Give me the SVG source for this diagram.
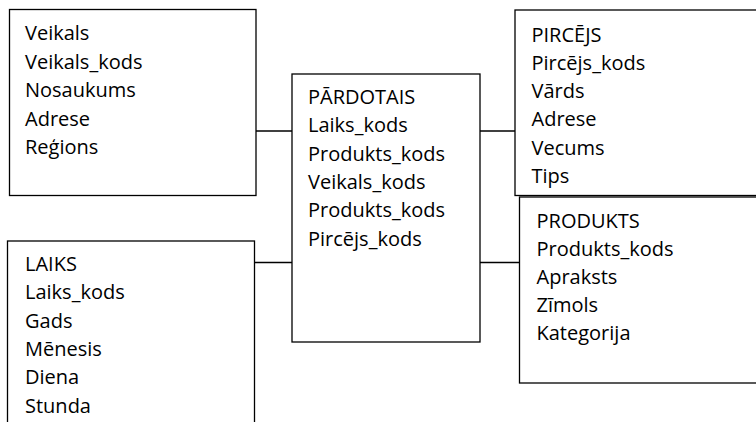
<svg xmlns="http://www.w3.org/2000/svg" width="756" height="422" viewBox="0 0 756 422">
<style>
.box{fill:#fff;stroke:#000;stroke-width:1.3}
.con{stroke:#000;stroke-width:1.3;fill:none}
text{font-family:"Open Sans","Noto Sans",sans-serif;font-size:20px;fill:#000}
</style>
<rect width="756" height="422" fill="#fff"/>
<g id="veikals">
<rect class="box" x="9.5" y="9.5" width="246.5" height="186"/>
<text x="25" y="40">Veikals</text>
<text x="25" y="68.5">Veikals_kods</text>
<text x="25" y="97">Nosaukums</text>
<text x="25" y="125.5">Adrese</text>
<text x="25" y="154">Reģions</text>
</g>
<g id="pardotais">
<rect class="box" x="292" y="74" width="188" height="268"/>
<text x="308" y="104">PĀRDOTAIS</text>
<text x="308" y="132.3">Laiks_kods</text>
<text x="308" y="160.6">Produkts_kods</text>
<text x="308" y="188.9">Veikals_kods</text>
<text x="308" y="217.2">Produkts_kods</text>
<text x="308" y="245.5">Pircējs_kods</text>
</g>
<g id="pircejs">
<rect class="box" x="515" y="10" width="260" height="185.5"/>
<text x="531.5" y="41.5">PIRCĒJS</text>
<text x="531.5" y="69.8">Pircējs_kods</text>
<text x="531.5" y="98.1">Vārds</text>
<text x="531.5" y="126.4">Adrese</text>
<text x="531.5" y="154.7">Vecums</text>
<text x="531.5" y="183">Tips</text>
</g>
<g id="produkts">
<rect class="box" x="519.5" y="197" width="260" height="186"/>
<text x="536.5" y="227.5">PRODUKTS</text>
<text x="536.5" y="255.5">Produkts_kods</text>
<text x="536.5" y="283.5">Apraksts</text>
<text x="536.5" y="311.5">Zīmols</text>
<text x="536.5" y="339.5">Kategorija</text>
</g>
<g id="laiks">
<rect class="box" x="7.5" y="241" width="247" height="200"/>
<text x="25" y="271">LAIKS</text>
<text x="25" y="299.3">Laiks_kods</text>
<text x="25" y="327.6">Gads</text>
<text x="25" y="355.9">Mēnesis</text>
<text x="25" y="384.2">Diena</text>
<text x="25" y="412.5">Stunda</text>
</g>
<g id="connectors">
<line class="con" x1="256" y1="131" x2="292" y2="131"/>
<line class="con" x1="480" y1="131" x2="515" y2="131"/>
<line class="con" x1="254.5" y1="262.5" x2="292" y2="262.5"/>
<line class="con" x1="480" y1="262.5" x2="519.5" y2="262.5"/>
</g>
</svg>
